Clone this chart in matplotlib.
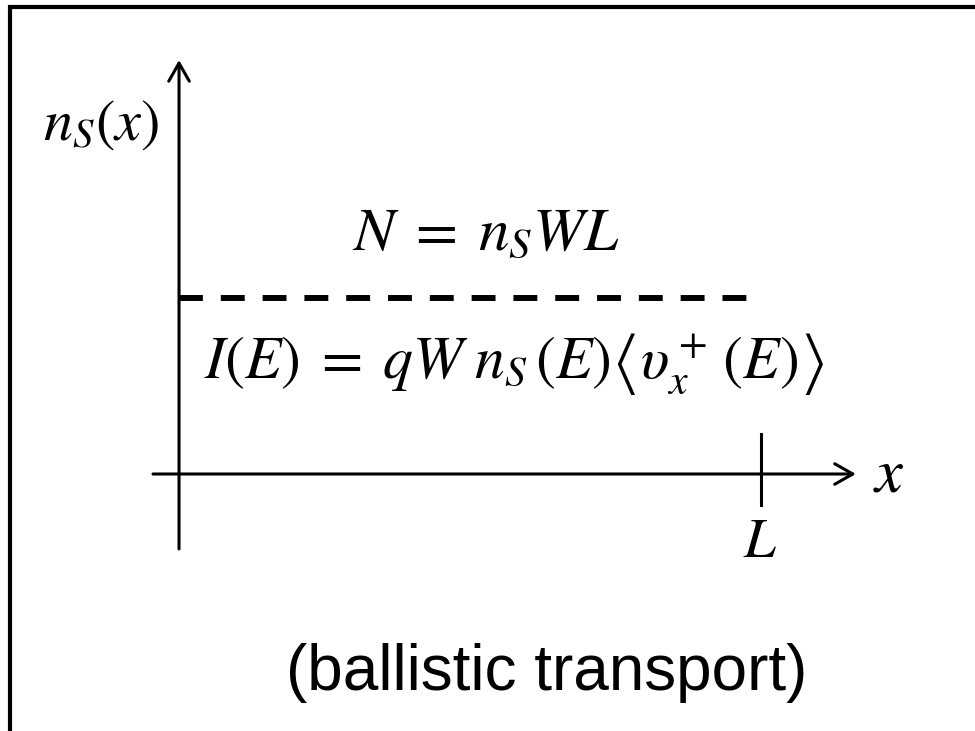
import matplotlib
matplotlib.use("Agg")
import matplotlib.pyplot as plt
from matplotlib.lines import Line2D
from matplotlib.patches import ArrowStyle

plt.rcParams["mathtext.fontset"] = "stix"

# channel of length L with a uniform sheet density n_s
L = 1.0
n_s = 1.0
profile_x = [0.0, 0.978 * L]
profile_n = [n_s, n_s]

DPI = 100
fig = plt.figure(figsize=(9.75, 7.31), dpi=DPI)
ax = fig.add_axes([0, 0, 1, 1])
ax.set_xlim(-0.3076, 1.3677)
ax.set_ylim(-1.4602, 2.6932)
ax.axis("off")

axis_lw = 2.2
arrow = ArrowStyle("->", head_length=13, head_width=7.4)


def draw_axis(start, tip):
    ax.annotate(
        "", xy=tip, xytext=start,
        arrowprops=dict(arrowstyle=arrow, mutation_scale=1, lw=axis_lw,
                        color="black", shrinkA=0, shrinkB=0),
    )


# position axis and density axis
draw_axis((-0.0447, 0.0), (1.163, 0.0))
draw_axis((0.0, -0.426), (0.0, 2.352))

# tick marking the end of the channel
ax.plot([L, L], [-0.176, 0.227], color="black", lw=axis_lw)

# constant density profile
ax.plot(profile_x, profile_n, color="black", lw=4.3,
        dashes=(4, 3), dash_capstyle="butt", solid_capstyle="butt")

ax.text(-0.2337, 1.898, r"$n_S(x)$", fontsize=42, ha="left", va="baseline")
ax.text(0.5275, 1.273, r"$N\;=\;n_S WL$", fontsize=44, ha="center", va="baseline")
ax.text(0.5756, 0.545,
        r"$I(E)\;=\;qW\;n_S\,\left(E\right)\left\langle\upsilon_x^+\,\left(E\right)\right\rangle$",
        fontsize=43, ha="center", va="baseline")
ax.text(1.1924, -0.102, r"$x$", fontsize=45, ha="left", va="baseline")
ax.text(0.998, -0.4716, r"$L$", fontsize=41, ha="center", va="baseline")
ax.text(0.632, -1.227, "(ballistic transport)", fontsize=46,
        family=["Liberation Sans", "DejaVu Sans"], ha="center", va="baseline")

# open frame along the left and top edges
fig.add_artist(Line2D([9.5 / 975, 9.5 / 975, 1.0], [0.0, 1 - 7 / 731, 1 - 7 / 731],
                      transform=fig.transFigure, color="black", lw=3.0,
                      solid_joinstyle="miter"))

fig.savefig("out.png", dpi=DPI)
